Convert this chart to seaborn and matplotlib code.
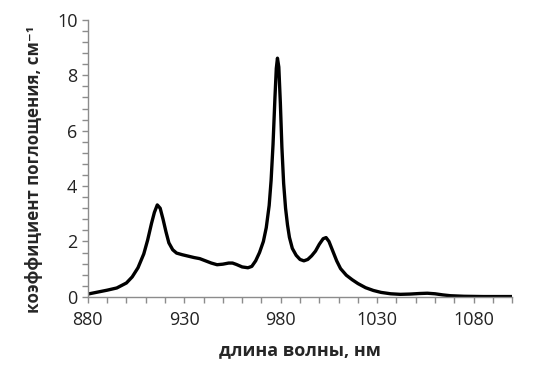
import numpy as np
import pandas as pd
import matplotlib
matplotlib.use("Agg")
import matplotlib.pyplot as plt
from matplotlib.ticker import FixedLocator, MultipleLocator
import seaborn as sns

wavelength = [880, 885, 890, 895, 900, 903, 906, 909, 911, 913, 914.5, 916, 917.5, 919,
              920.5, 922, 924, 926, 929, 932, 935, 938, 941, 944, 947, 950, 953, 955,
              957, 960, 963, 965, 967, 969, 971, 972.5, 974, 975, 976, 977, 977.7, 978.3,
              979, 979.8, 980.6, 981.5, 982.5, 983.5, 984.5, 986, 988, 990, 992, 994, 996, 998, 1000,
              1002, 1003.5, 1005, 1007, 1009, 1011, 1014, 1017, 1020, 1024, 1028, 1032,
              1037, 1042, 1047, 1052, 1056, 1060, 1064, 1068, 1075, 1085, 1095, 1100]
absorption = [0.10, 0.17, 0.24, 0.32, 0.50, 0.72, 1.05, 1.55, 2.05, 2.65, 3.05, 3.32, 3.20, 2.80,
              2.35, 1.95, 1.70, 1.58, 1.52, 1.47, 1.42, 1.38, 1.30, 1.22, 1.16, 1.18, 1.22, 1.22,
              1.17, 1.08, 1.05, 1.10, 1.30, 1.60, 2.00, 2.50, 3.30, 4.20, 5.50, 7.20, 8.25, 8.62,
              8.30, 7.00, 5.40, 4.10, 3.20, 2.60, 2.15, 1.75, 1.50, 1.35, 1.30, 1.35, 1.48, 1.65, 1.90,
              2.10, 2.14, 2.00, 1.65, 1.30, 1.02, 0.78, 0.62, 0.48, 0.33, 0.23, 0.16,
              0.11, 0.09, 0.10, 0.12, 0.13, 0.11, 0.07, 0.04, 0.02, 0.01, 0.01, 0.01]
x_ticks = [880, 930, 980, 1030, 1080]
y_ticks = [0, 2, 4, 6, 8, 10]
x_label = "длина волны, нм"
y_label = "коэффициент поглощения, см⁻¹"

sns.set_theme(style="white")
plt.rcParams['font.family'] = ['Open Sans', 'DejaVu Sans']

df = pd.DataFrame({"x": wavelength, "y": absorption})
fig = plt.figure(figsize=(5.49, 3.84), dpi=100)
ax = fig.add_axes([0.160, 0.227, 0.773, 0.721])
sns.lineplot(data=df, x="x", y="y", ax=ax, color="black", linewidth=2.4, sort=False)

ax.set_xlim(880, 1100)
ax.set_ylim(0, 10)
ax.xaxis.set_major_locator(FixedLocator(x_ticks))
ax.xaxis.set_minor_locator(MultipleLocator(10))
ax.yaxis.set_major_locator(FixedLocator(y_ticks))
ax.yaxis.set_minor_locator(MultipleLocator(0.4))
for s in ["top", "right"]:
    ax.spines[s].set_visible(False)
for s in ["left", "bottom"]:
    ax.spines[s].set_color("#8c8c8c")
    ax.spines[s].set_linewidth(1.0)
ax.tick_params(which="both", direction="out", length=4, width=1, color="#8c8c8c",
               bottom=True, left=True, labelsize=13, labelcolor="#222222")
ax.tick_params(axis="x", pad=6)
ax.set_xlabel(x_label, fontsize=13, fontweight="bold", labelpad=9)
ax.set_ylabel(y_label, fontsize=12.2, fontweight="bold")
ax.yaxis.set_label_coords(-0.105, 0.46)
ax.grid(False)
fig.savefig("out.png", dpi=100)
